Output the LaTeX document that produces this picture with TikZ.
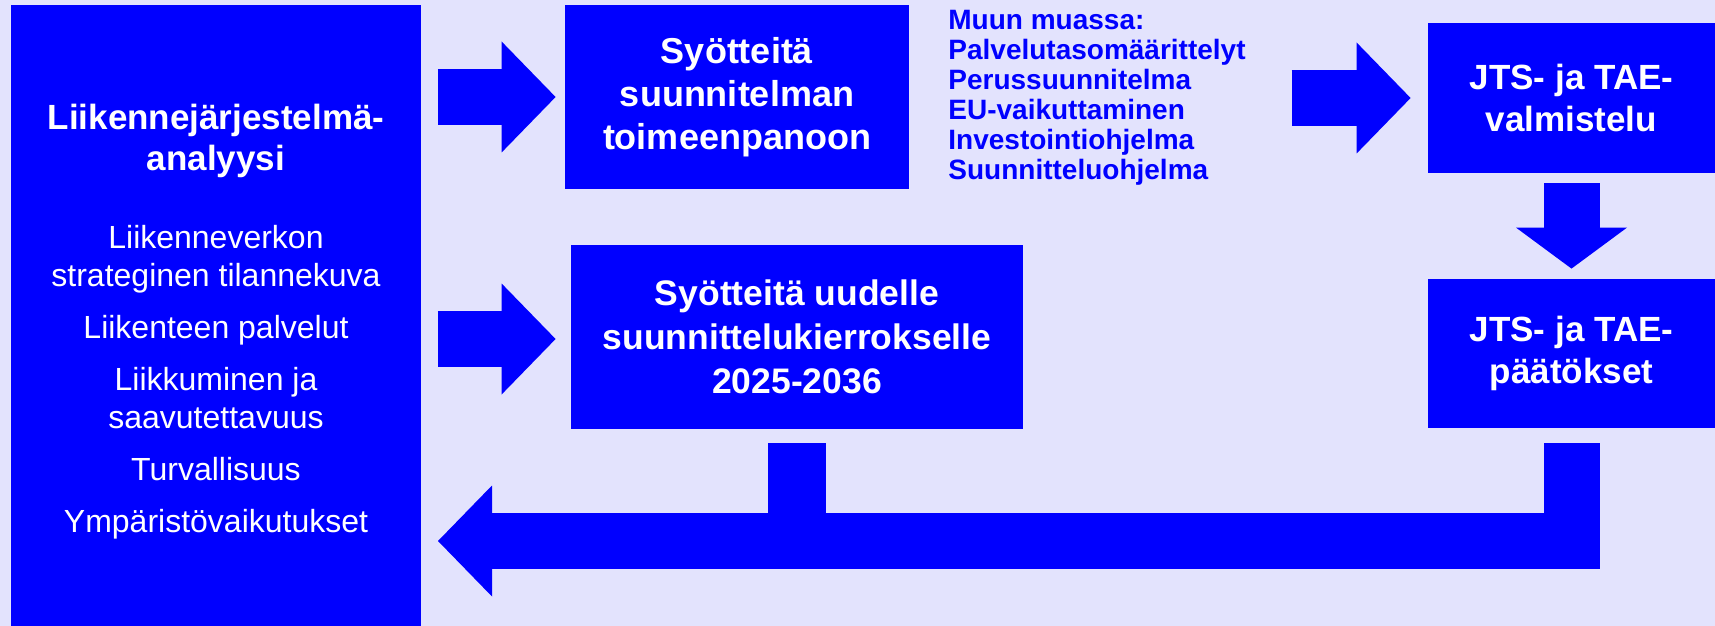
\documentclass[tikz,border=0pt]{standalone}
\usepackage{fontspec}
\setmainfont{Liberation Sans}
\usepackage{xcolor}
\usetikzlibrary{arrows.meta,calc}
\definecolor{boxblue}{RGB}{0,0,255}
\definecolor{paper}{RGB}{227,227,253}

\begin{document}
\begin{tikzpicture}[x=0.5pt,y=-0.5pt,
 box/.style={fill=boxblue,text=white,inner sep=0pt,align=center,
   font=\bfseries\fontsize{17.5}{21}\selectfont},
 boxtext/.style={text=white,inner sep=0pt,align=center,anchor=north},
 blockarrow/.style={draw=boxblue,line width=28pt,
   -{Triangle[length=27pt,width=55.5pt,line width=0pt]}},
 feed/.style={draw=boxblue,line width=28pt,line join=miter,
   -{Triangle[length=27pt,width=55.5pt,line width=0pt]}}]
 \fill[paper] (0,0) rectangle (1715,626);
 \useasboundingbox (0,0) rectangle (1715,626);
 \node[box,anchor=north west,minimum width=205pt,minimum height=311pt] (analysis) at (11,5) {};
 \node[boxtext,font=\bfseries\fontsize{17.5}{20.5}\selectfont] (title) at (216,103.5)
 {Liikennejärjestelmä-\\analyysi};
 \node[boxtext,font=\fontsize{16}{19}\selectfont] (themes) at (216,225)
 {Liikenneverkon\\strateginen tilannekuva\\[7pt]
  Liikenteen palvelut\\[7pt]
  Liikkuminen ja\\saavutettavuus\\[7pt]
  Turvallisuus\\[7pt]
  Ympäristövaikutukset};
 \node[box,minimum width=172pt,minimum height=92pt,
   font=\bfseries\fontsize{18}{21.5}\selectfont] (input) at (737,97)
 {Syötteitä\\suunnitelman\\toimeenpanoon};
 \node[box,minimum width=226pt,minimum height=92pt,
   font=\bfseries\fontsize{17.75}{22}\selectfont] (plan) at (797,337)
 {Syötteitä uudelle\\suunnittelukierrokselle\\2025-2036};
 \node[text=boxblue,inner sep=0pt,align=left,anchor=north west,
   font=\bfseries\fontsize{14}{15}\selectfont] (examples) at (948,10)
 {Muun muassa:\\Palvelutasomäärittelyt\\Perussuunnitelma\\EU-vaikuttaminen\\
  Investointiohjelma\\Suunnitteluohjelma};
 \node[box,minimum width=143.5pt,minimum height=75pt] (prep) at (1571.5,98)
 {JTS- ja TAE-\\valmistelu};
 \node[box,minimum width=143.5pt,minimum height=74.5pt] (decide) at (1571.5,353.5)
 {JTS- ja TAE-\\päätökset};
 \coordinate (back) at (438,541);
 \draw[blockarrow] ($(analysis.east |- input)+(16,0)$) -- ($(input.west)+(-9,0)$);
 \draw[blockarrow] ($(analysis.east |- plan)+(16,2)$) -- ($(plan.west)+(-15,2)$);
 \draw[blockarrow] ($(prep.west)+(-136,0)$) -- ($(prep.west)+(-17,0)$);
 \draw[blockarrow,-{Triangle[length=20.5pt,width=55.5pt,line width=0pt]}]
 ($(prep.south)+(0,10)$) -- ($(decide.north)+(0,-10)$);
 \draw[draw=boxblue,line width=29pt] ($(plan.south)+(0,14)$) -- (plan.south |- back);
 \draw[feed] ($(decide.south)+(0,15)$) |- (back);
\end{tikzpicture}
\end{document}
